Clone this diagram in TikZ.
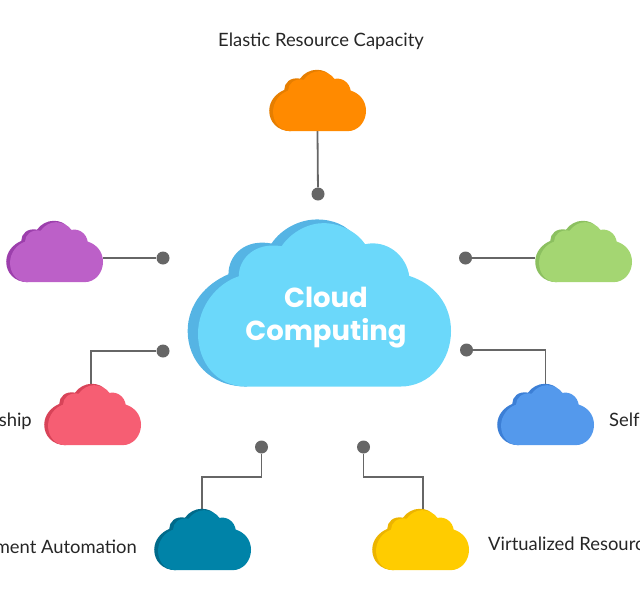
\documentclass[tikz,border=0pt]{standalone}
\usepackage{fontspec}
\setmainfont{Lato}
\newfontfamily\titlefont{Poppins}
\definecolor{lineGray}{HTML}{666666}
\definecolor{bigFront}{HTML}{6BD8FA}
\definecolor{bigBack}{HTML}{55B4E4}
\definecolor{orangeF}{HTML}{FF8A00}\definecolor{orangeB}{HTML}{E67E00}
\definecolor{purpleF}{HTML}{BC60C8}\definecolor{purpleB}{HTML}{9C3FAC}
\definecolor{greenF}{HTML}{A4D672}\definecolor{greenB}{HTML}{8CC060}
\definecolor{redF}{HTML}{F65E73}\definecolor{redB}{HTML}{D84358}
\definecolor{blueF}{HTML}{5499EC}\definecolor{blueB}{HTML}{3C7FD6}
\definecolor{tealF}{HTML}{0083A8}\definecolor{tealB}{HTML}{006A8A}
\definecolor{yellowF}{HTML}{FFCC00}\definecolor{yellowB}{HTML}{ECB400}
\newcommand{\cloudoutline}{%
  (230,558) .. controls (140,558) and (85,485) .. (85,400)
  .. controls (85,320) and (140,250) .. (207,228)
  .. controls (207,175) and (255,125) .. (335,138)
  .. controls (365,95) and (415,69) .. (460,69)
  .. controls (510,69) and (560,95) .. (585,132)
  .. controls (650,118) and (708,165) .. (717,227)
  .. controls (790,250) and (842,310) .. (842,392)
  .. controls (842,480) and (780,558) .. (690,558) -- cycle}
\tikzset{
  cloudslot/.style={minimum width=97pt,minimum height=61pt,inner sep=0pt,outer sep=0pt},
  hub/.style={circle,fill=lineGray,minimum size=13pt,inner sep=0pt},
  link/.style={draw=lineGray,line width=1.8pt},
  caption/.style={font=\fontsize{18.4}{20}\selectfont,text=black!85,inner sep=0pt},
  pics/fluffy/.style n args={3}{code={
    \begin{scope}[scale=#3,shift={(-447,-308)}]
      \fill[#2] (230,558) .. controls (120,558) and (54,480) .. (54,392)
        .. controls (54,310) and (110,250) .. (176,222)
        .. controls (176,165) and (225,115) .. (305,130)
        .. controls (335,85) and (390,58) .. (440,58)
        .. controls (490,58) and (530,75) .. (555,110)
        -- (600,300) -- cycle;
      \fill[#1] \cloudoutline;
    \end{scope}
  }}
}
\begin{document}
\begin{tikzpicture}[x=1pt,y=-1pt]
  \useasboundingbox (0,0) rectangle (640,608);
  \node[cloudslot] (orange) at (317.5,100.5) {};
  \node[cloudslot] (purple) at (54.5,251.5) {};
  \node[cloudslot] (green) at (583.5,251.5) {};
  \node[cloudslot] (red) at (92.5,414.5) {};
  \node[cloudslot] (blue) at (545.5,414.5) {};
  \node[cloudslot] (teal) at (202.5,539.5) {};
  \node[cloudslot] (yellow) at (420.5,539.5) {};
  \node[hub] (hTop) at (318,194) {};
  \node[hub] (hPurple) at (163,258) {};
  \node[hub] (hGreen) at (465.5,258) {};
  \node[hub] (hRed) at (163,351) {};
  \node[hub] (hBlue) at (466.5,350) {};
  \node[hub] (hTeal) at (261.5,447) {};
  \node[hub] (hYellow) at (363.5,447) {};
  \coordinate (kTeal) at (202,477);
  \coordinate (kYellow) at (423,477);
  \draw[link] (orange.south) -- (hTop);
  \draw[link] (purple.east |- hPurple) -- (hPurple);
  \draw[link] (green.west |- hGreen) -- (hGreen);
  \draw[link] ([xshift=-1.5pt,yshift=-4pt]red.north) |- (hRed);
  \draw[link] ([yshift=-4pt]blue.north) |- (hBlue);
  \draw[link] ([yshift=-4pt]teal.north -| kTeal) -- (kTeal) -- (kTeal -| hTeal) -- (hTeal);
  \draw[link] ([yshift=-4pt]yellow.north -| kYellow) -- (kYellow) -- (kYellow -| hYellow) -- (hYellow);
  \pic at (orange) {fluffy={orangeF}{orangeB}{0.1228}};
  \pic at (purple) {fluffy={purpleF}{purpleB}{0.1228}};
  \pic at (green) {fluffy={greenF}{greenB}{0.1228}};
  \pic at (red) {fluffy={redF}{redB}{0.1228}};
  \pic at (blue) {fluffy={blueF}{blueB}{0.1228}};
  \pic at (teal) {fluffy={tealF}{tealB}{0.1228}};
  \pic at (yellow) {fluffy={yellowF}{yellowB}{0.1228}};
  \pic at (319,303) {fluffy={bigFront}{bigBack}{0.3342}};
  \node[font=\titlefont\bfseries\fontsize{27.5}{33}\selectfont,text=white,align=center,inner sep=0pt] (title) at (326,317.5) {Cloud\\Computing};
  \node[caption,anchor=base west] (capTop) at (218,46) {Elastic Resource Capacity};
  \node[caption,anchor=base east] (capRed) at (32,426) {ship};
  \node[caption,anchor=base west] (capBlue) at (609,426) {Self};
  \node[caption,anchor=base east] (capTeal) at (137,553) {ment Automation};
  \node[caption,anchor=base west] (capYellow) at (488,550) {Virtualized Resourc};
\end{tikzpicture}
\end{document}
